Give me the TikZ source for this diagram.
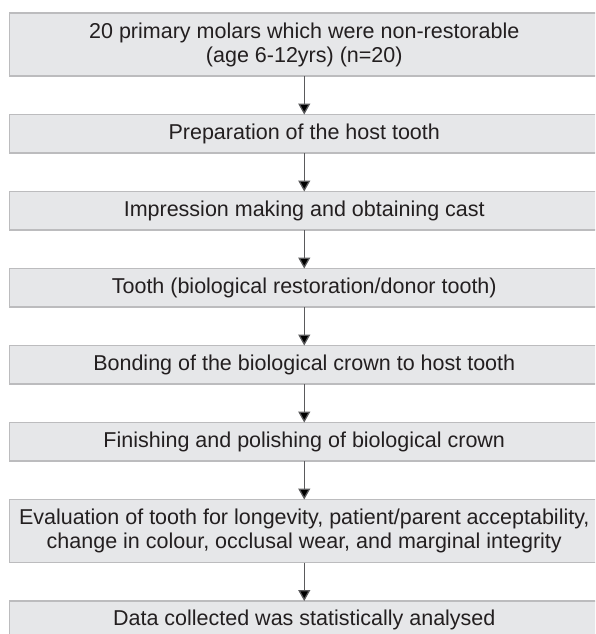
\documentclass[tikz,border=0pt]{standalone}
\usepackage{fontspec}
\setmainfont{Liberation Sans}
\usetikzlibrary{positioning,arrows.meta}
\definecolor{boxfill}{HTML}{E6E7E9}
\definecolor{boxline}{HTML}{BCBCBE}
\definecolor{arrowgray}{HTML}{5A5A5C}
\definecolor{textgray}{HTML}{231F20}
\begin{document}
\begin{tikzpicture}[->,>={Triangle[length=11pt,width=12pt]},node distance=38.5pt,
    stepbox/.style={rectangle,draw=boxline,fill=boxfill,line width=1.3pt,outer sep=0pt,
        minimum width=589.5pt,minimum height=38.5pt,inner sep=0pt,align=center,
        text=textgray,font=\fontsize{21.5}{24}\selectfont},
    flow/.style={draw=arrowgray,line width=1.3pt}]
            \useasboundingbox (0,0) rectangle (595pt,-634pt);
            \clip (0,0) rectangle (595pt,-634pt);
            \node [stepbox, minimum height=63pt, anchor=north west](molars) at (9.5pt,-13pt)
                {20 primary molars which were non-restorable\\(age 6-12yrs) (n=20)};
            \node [stepbox](prep) [below=of molars]{Preparation of the host tooth};
            \node [stepbox](impr) [below=of prep]{Impression making and obtaining cast};
            \node [stepbox](donor) [below=of impr]{Tooth (biological restoration/donor tooth)};
            \node [stepbox](bond) [below=of donor]{Bonding of the biological crown to host tooth};
            \node [stepbox](finish) [below=of bond]{Finishing and polishing of biological crown};
            \node [stepbox, minimum height=63pt](eval) [below=of finish]
                {Evaluation of tooth for longevity, patient/parent acceptability,\\change in colour, occlusal wear, and marginal integrity};
            \node [stepbox](data) [below=of eval]{Data collected was statistically analysed};

            \path[flow]
                (molars) edge (prep)
                (prep) edge (impr)
                (impr) edge (donor)
                (donor) edge (bond)
                (bond) edge (finish)
                (finish) edge (eval)
                (eval) edge (data)
                ;
        \end{tikzpicture}
\end{document}
